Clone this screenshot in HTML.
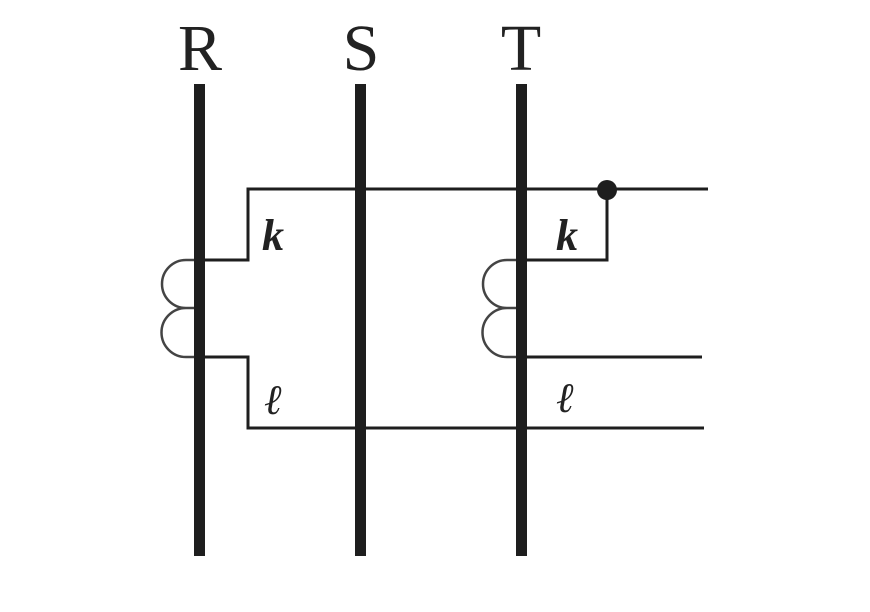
<!DOCTYPE html>
<html><head><meta charset="utf-8"><style>
html,body{margin:0;padding:0;background:#fff;width:870px;height:612px;overflow:hidden}
</style></head><body>
<svg width="870" height="612" viewBox="0 0 870 612" xmlns="http://www.w3.org/2000/svg">
<g font-family="Liberation Serif, serif" font-size="66" fill="#222" text-anchor="middle">
<text x="200" y="70">R</text>
<text x="361" y="70">S</text>
<text x="521" y="70">T</text>
</g>
<g fill="none" stroke="#1e1e1e" stroke-width="3">
<polyline points="199,260 248,260 248,189 708,189"/>
<polyline points="199,357 248,357 248,428 704,428"/>
<polyline points="521,260 607,260 607,189"/>
<line x1="521" y1="357" x2="702" y2="357"/>
</g>
<g fill="none" stroke="#444" stroke-width="2.5">
<path d="M199,260 L186,260 A24,24 0 0 0 186,308 L199,308 M186,308 A24,24 0 0 0 186,357 L199,357"/>
<path d="M521,260 L507,260 A24,24 0 0 0 507,308 L521,308 M507,308 A24,24 0 0 0 507,357 L521,357"/>
</g>
<g fill="#1e1e1e">
<rect x="194" y="84" width="11" height="472"/>
<rect x="355" y="84" width="11" height="472"/>
<rect x="516" y="84" width="11" height="472"/>
<circle cx="607" cy="190" r="10"/>
</g>
<g font-family="Liberation Serif, serif" font-style="italic" font-size="44" fill="#222">
<text x="262" y="250" font-weight="bold">k</text>
<text x="556" y="250" font-weight="bold">k</text>
<text x="264" y="414" font-size="42">ℓ</text>
<text x="556" y="412" font-size="42">ℓ</text>
</g>
</svg>
</body></html>
